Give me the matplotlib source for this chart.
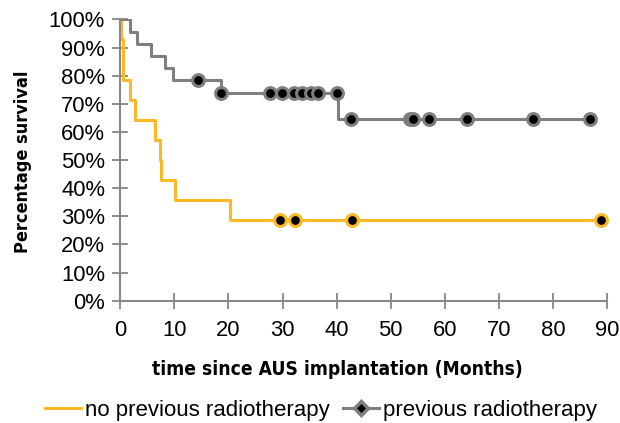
import matplotlib
matplotlib.use('Agg')
import matplotlib.pyplot as plt
from matplotlib.lines import Line2D

# Kaplan-Meier curves (months, % survival)
no_rt_times = [0, 0.2, 0.5, 1.8, 2.8, 6.5, 7.4, 7.6, 10.2, 20.2, 88.9]
no_rt_surv = [100, 92.9, 78.6, 71.4, 64.3, 57.1, 50.0, 42.9, 35.7, 28.6, 28.6]
no_rt_censor = [29.6, 32.4, 42.8, 88.9]

rt_times = [0, 1.8, 3.0, 5.7, 8.3, 9.7, 18.6, 40.2, 86.8]
rt_surv = [100, 95.7, 91.3, 87.0, 82.6, 78.3, 73.7, 64.5, 64.5]
rt_censor = [14.4, 18.6, 27.6, 29.9, 32.2, 33.6, 35.2, 36.6, 40.0,
             42.6, 53.6, 54.2, 57.0, 64.2, 76.4, 86.8]

yellow = '#FDB825'
gray = '#7F7F7F'
axcol = '#888888'


def surv_at(times, surv, t):
    s = surv[0]
    for ti, si in zip(times, surv):
        if ti <= t:
            s = si
    return s


fig = plt.figure(figsize=(6.2, 4.23), dpi=100)
ax = fig.add_axes([0.194, 0.289, 0.785, 0.665])

ax.step(no_rt_times, no_rt_surv, where='post', color=yellow, lw=2.2, zorder=2)
ax.step(rt_times, rt_surv, where='post', color=gray, lw=2.2, zorder=2)

ax.plot(no_rt_censor, [surv_at(no_rt_times, no_rt_surv, t) for t in no_rt_censor],
        'o', ms=8.5, mfc='black', mec=yellow, mew=2.2, zorder=3, clip_on=False)
ax.plot(rt_censor, [surv_at(rt_times, rt_surv, t) for t in rt_censor],
        'o', ms=8.5, mfc='black', mec=gray, mew=2.2, zorder=3, clip_on=False)

ax.set_xlim(0, 90)
ax.set_ylim(0, 100)
ax.set_xticks(range(0, 91, 10))
ax.set_yticks(range(0, 101, 10))
ax.set_yticklabels(['%d%%' % v for v in range(0, 101, 10)])

for s in ['top', 'right']:
    ax.spines[s].set_visible(False)
for s in ['left', 'bottom']:
    ax.spines[s].set_color(axcol)
    ax.spines[s].set_linewidth(1.5)
ax.tick_params(direction='inout', length=12, width=1.3, color=axcol,
               labelsize=15.8, labelcolor='black', pad=5)
ax.tick_params(axis='x', pad=8)
for lab in ax.get_xticklabels() + ax.get_yticklabels():
    lab.set_family(['Liberation Sans', 'DejaVu Sans'])

ax.set_xlabel('time since AUS implantation (Months)', fontsize=13.8,
              fontweight='bold', family='DejaVu Sans', fontstretch='condensed')
ax.xaxis.set_label_coords(0.446, -0.21)
ax.set_ylabel('Percentage survival', fontsize=13, fontweight='bold',
              family='DejaVu Sans', fontstretch='condensed')
ax.yaxis.set_label_coords(-0.182, 0.495)

handles = [Line2D([], [], color=yellow, lw=2.2),
           Line2D([], [], color=gray, lw=2.2, marker='D', ms=7,
                  mfc='black', mec=gray, mew=2.5)]
fig.legend(handles, ['no previous radiotherapy', 'previous radiotherapy'],
           loc='lower center', bbox_to_anchor=(0.518, -0.042), ncol=2,
           frameon=False, handlelength=1.6, handletextpad=0.2,
           columnspacing=0.6, prop={'family': ['Liberation Sans', 'DejaVu Sans'], 'size': 16})

fig.savefig('out.png', dpi=100)
